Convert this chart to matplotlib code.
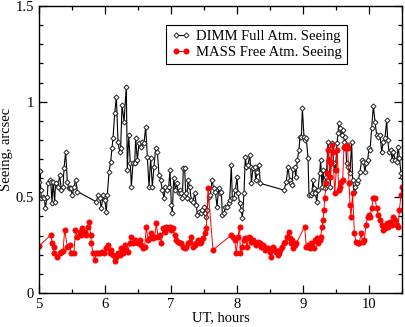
import matplotlib
matplotlib.use("Agg")
import matplotlib.pyplot as plt
from matplotlib.ticker import MultipleLocator, FuncFormatter

# UT hours and seeing (arcsec)
dimm_t = [5.005, 5.015, 5.026, 5.036, 5.061, 5.081, 5.096, 5.126, 5.136, 5.162,
          5.177, 5.197, 5.212, 5.237, 5.250, 5.263, 5.288, 5.313, 5.338, 5.364,
          5.379, 5.404, 5.429, 5.449, 5.465, 5.480, 5.505, 5.530, 5.556, 5.581,
          5.869, 5.894, 5.919, 5.945, 5.970, 5.995, 6.020, 6.035, 6.061, 6.086,
          6.106, 6.121, 6.147, 6.172, 6.197, 6.222, 6.237, 6.258, 6.288, 6.323,
          6.338, 6.359, 6.384, 6.399, 6.424, 6.450, 6.465, 6.490, 6.515, 6.540,
          6.566, 6.591, 6.616, 6.641, 6.667, 6.692, 6.717, 6.742, 6.768, 6.793,
          6.818, 6.843, 6.869, 6.894, 6.914, 6.939, 6.965, 6.985, 7.005, 7.020,
          7.040, 7.066, 7.086, 7.116, 7.136, 7.157, 7.172, 7.187, 7.207, 7.222,
          7.237, 7.258, 7.283, 7.308, 7.333, 7.359, 7.384, 7.399, 7.424, 7.449,
          7.475, 7.495, 7.510, 7.525, 7.545, 7.571, 7.596, 7.621, 7.646, 7.672,
          7.697, 7.722, 7.737, 7.763, 7.778, 7.803, 7.823, 7.848, 7.874, 7.889,
          7.914, 7.929, 7.949, 7.975, 8.000, 8.015, 8.040, 8.066, 8.081, 8.106,
          8.126, 8.141, 8.167, 8.192, 8.207, 8.217, 8.242, 8.268, 8.283, 8.308,
          8.333, 8.353, 8.712, 8.747, 8.773, 8.798, 8.813, 8.833, 8.848, 8.874,
          8.889, 8.914, 8.939, 8.954, 8.975, 8.990, 9.015, 9.035, 9.050, 9.076,
          9.091, 9.116, 9.136, 9.151, 9.167, 9.187, 9.207, 9.227, 9.252, 9.267,
          9.288, 9.303, 9.328, 9.353, 9.379, 9.394, 9.414, 9.429, 9.444, 9.464,
          9.490, 9.515, 9.530, 9.545, 9.561, 9.586, 9.611, 9.626, 9.641, 9.662,
          9.687, 9.712, 9.737, 9.752, 9.773, 9.788, 9.813, 9.838, 9.864, 9.889,
          9.914, 9.939, 9.955, 9.980, 10.000, 10.015, 10.040, 10.066, 10.091, 10.116,
          10.141, 10.167, 10.192, 10.217, 10.242, 10.268, 10.283, 10.303, 10.328, 10.354,
          10.369, 10.394, 10.419, 10.444, 10.460, 10.485, 10.500]
dimm_v = [0.580, 0.640, 0.540, 0.495, 0.500, 0.495, 0.443, 0.503, 0.573, 0.590,
          0.582, 0.472, 0.582, 0.477, 0.570, 0.573, 0.556, 0.617, 0.538, 0.556,
          0.652, 0.739, 0.582, 0.547, 0.550, 0.547, 0.512, 0.556, 0.591, 0.530,
          0.477, 0.512, 0.495, 0.443, 0.512, 0.486, 0.425, 0.512, 0.634, 0.687,
          0.756, 0.809, 0.939, 1.026, 0.791, 0.739, 0.756, 0.983, 0.896, 1.079,
          0.643, 0.826, 0.678, 0.556, 0.678, 0.678, 0.809, 0.695, 0.782, 0.765,
          0.791, 0.782, 0.869, 0.713, 0.556, 0.704, 0.556, 0.660, 0.756, 0.739,
          0.617, 0.591, 0.538, 0.495, 0.556, 0.538, 0.556, 0.643, 0.460, 0.416,
          0.599, 0.538, 0.573, 0.521, 0.538, 0.521, 0.495, 0.652, 0.652, 0.521,
          0.495, 0.591, 0.556, 0.486, 0.477, 0.521, 0.460, 0.408, 0.425, 0.416,
          0.434, 0.451, 0.416, 0.399, 0.434, 0.503, 0.512, 0.591, 0.547, 0.530,
          0.451, 0.547, 0.521, 0.530, 0.408, 0.416, 0.451, 0.451, 0.469, 0.486,
          0.669, 0.495, 0.495, 0.538, 0.608, 0.521, 0.469, 0.434, 0.390, 0.521,
          0.713, 0.660, 0.669, 0.721, 0.660, 0.573, 0.652, 0.660, 0.591, 0.634,
          0.669, 0.573, 0.538, 0.582, 0.660, 0.591, 0.573, 0.565, 0.646, 0.657,
          0.608, 0.695, 0.747, 0.817, 0.817, 0.965, 0.817, 0.800, 0.809, 0.704,
          0.512, 0.512, 0.521, 0.591, 0.547, 0.521, 0.477, 0.538, 0.625, 0.695,
          0.556, 0.643, 0.547, 0.608, 0.791, 0.695, 0.556, 0.756, 0.782, 0.678,
          0.643, 0.782, 0.835, 0.887, 0.860, 0.826, 0.852, 0.791, 0.817, 0.678,
          0.660, 0.625, 0.791, 0.591, 0.530, 0.556, 0.573, 0.591, 0.634, 0.695,
          0.687, 0.634, 0.678, 0.695, 0.756, 0.747, 0.861, 0.977, 0.896, 0.826,
          0.817, 0.826, 0.739, 0.791, 0.809, 0.904, 0.800, 0.739, 0.747, 0.695,
          0.739, 0.695, 0.687, 0.765, 0.704, 0.625, 0.608]

mass_t = [5.000, 5.177, 5.202, 5.222, 5.227, 5.278, 5.313, 5.338, 5.364, 5.389,
          5.429, 5.465, 5.490, 5.530, 5.551, 5.581, 5.616, 5.641, 5.657, 5.692,
          5.717, 5.742, 5.758, 5.783, 5.793, 5.818, 5.843, 5.869, 5.894, 5.919,
          5.955, 5.985, 6.020, 6.046, 6.071, 6.096, 6.121, 6.147, 6.172, 6.197,
          6.222, 6.248, 6.273, 6.298, 6.323, 6.349, 6.374, 6.399, 6.424, 6.450,
          6.475, 6.500, 6.525, 6.551, 6.576, 6.601, 6.626, 6.652, 6.677, 6.702,
          6.727, 6.753, 6.778, 6.803, 6.828, 6.854, 6.879, 6.904, 6.929, 6.955,
          6.980, 7.005, 7.030, 7.056, 7.081, 7.106, 7.131, 7.157, 7.182, 7.207,
          7.232, 7.258, 7.283, 7.308, 7.333, 7.359, 7.384, 7.409, 7.434, 7.460,
          7.485, 7.510, 7.535, 7.561, 7.636, 7.914, 7.939, 7.965, 7.990, 8.015,
          8.040, 8.050, 8.076, 8.101, 8.126, 8.151, 8.177, 8.202, 8.217, 8.242,
          8.268, 8.293, 8.318, 8.343, 8.369, 8.394, 8.419, 8.444, 8.470, 8.495,
          8.520, 8.545, 8.571, 8.596, 8.621, 8.636, 8.656, 8.682, 8.707, 8.732,
          8.762, 8.783, 8.798, 8.813, 8.833, 8.848, 8.874, 8.899, 9.025, 9.050,
          9.076, 9.101, 9.126, 9.141, 9.167, 9.187, 9.212, 9.227, 9.252, 9.267,
          9.288, 9.303, 9.318, 9.328, 9.353, 9.369, 9.379, 9.394, 9.414, 9.429,
          9.444, 9.454, 9.480, 9.505, 9.520, 9.540, 9.556, 9.576, 9.601, 9.621,
          9.636, 9.662, 9.677, 9.697, 9.712, 9.727, 9.752, 9.778, 9.803, 9.828,
          9.854, 9.879, 9.904, 9.929, 9.955, 9.980, 10.005, 10.015, 10.040, 10.066,
          10.091, 10.116, 10.141, 10.167, 10.192, 10.217, 10.242, 10.268, 10.293, 10.318,
          10.343, 10.369, 10.394, 10.419, 10.444, 10.460, 10.485, 10.500]
mass_v = [0.245, 0.303, 0.260, 0.242, 0.207, 0.190, 0.207, 0.216, 0.221, 0.329,
          0.242, 0.251, 0.207, 0.207, 0.329, 0.294, 0.321, 0.303, 0.338, 0.321,
          0.303, 0.347, 0.373, 0.303, 0.260, 0.207, 0.172, 0.207, 0.207, 0.207,
          0.216, 0.207, 0.233, 0.251, 0.207, 0.225, 0.199, 0.165, 0.190, 0.207,
          0.199, 0.233, 0.207, 0.251, 0.225, 0.216, 0.260, 0.294, 0.260, 0.277,
          0.268, 0.260, 0.277, 0.251, 0.233, 0.242, 0.347, 0.277, 0.286, 0.312,
          0.286, 0.294, 0.364, 0.294, 0.303, 0.260, 0.338, 0.321, 0.347, 0.338,
          0.347, 0.329, 0.338, 0.303, 0.277, 0.268, 0.260, 0.260, 0.242, 0.233,
          0.242, 0.260, 0.268, 0.294, 0.242, 0.251, 0.260, 0.277, 0.260, 0.268,
          0.286, 0.312, 0.338, 0.547, 0.225, 0.303, 0.294, 0.277, 0.207, 0.294,
          0.347, 0.207, 0.242, 0.277, 0.286, 0.242, 0.294, 0.286, 0.268, 0.277,
          0.260, 0.251, 0.268, 0.260, 0.242, 0.251, 0.225, 0.233, 0.233, 0.216,
          0.190, 0.242, 0.225, 0.216, 0.199, 0.207, 0.225, 0.242, 0.260, 0.268,
          0.294, 0.321, 0.286, 0.260, 0.277, 0.233, 0.251, 0.260, 0.347, 0.242,
          0.251, 0.233, 0.260, 0.242, 0.233, 0.277, 0.286, 0.260, 0.277, 0.294,
          0.347, 0.382, 0.434, 0.495, 0.573, 0.625, 0.747, 0.695, 0.608, 0.678,
          0.774, 0.739, 0.521, 0.643, 0.747, 0.538, 0.556, 0.582, 0.591, 0.765,
          0.756, 0.774, 0.756, 0.573, 0.460, 0.399, 0.521, 0.312, 0.268, 0.260,
          0.260, 0.312, 0.268, 0.277, 0.355, 0.399, 0.408, 0.399, 0.443, 0.495,
          0.495, 0.443, 0.408, 0.382, 0.355, 0.329, 0.338, 0.364, 0.347, 0.373,
          0.355, 0.399, 0.382, 0.355, 0.347, 0.434, 0.512, 0.556]

plt.rcParams["font.family"] = ["Liberation Serif", "DejaVu Serif"]
plt.rcParams["font.size"] = 10.5

fig = plt.figure(figsize=(4.05, 3.27), dpi=100)
ax = fig.add_axes([0.0963, 0.104, 0.8963, 0.8777])

ax.plot(dimm_t, dimm_v, color="black", lw=0.8, marker="D", ms=2.6,
        mfc="white", mec="#222222", mew=0.7, label="DIMM Full Atm. Seeing")
ax.plot(mass_t, mass_v, color="red", lw=0.7, marker="o", ms=3.8,
        mfc="red", mec="red", mew=0.5, label="MASS Free Atm. Seeing")

ax.set_xlim(5, 10.5)
ax.set_ylim(0, 1.5)
ax.xaxis.set_major_locator(MultipleLocator(1))
ax.xaxis.set_minor_locator(MultipleLocator(0.5))
ax.yaxis.set_major_locator(MultipleLocator(0.5))
ax.yaxis.set_minor_locator(MultipleLocator(0.1))
ax.yaxis.set_major_formatter(FuncFormatter(lambda v, p: f"{v:g}"))
ax.tick_params(which="both", direction="in", top=True, right=True, width=0.9)
ax.tick_params(which="major", length=5.5)
ax.tick_params(which="minor", length=3)
for s in ax.spines.values():
    s.set_linewidth(1.0)

ax.set_xlabel("UT, hours", labelpad=0)
ax.set_ylabel("Seeing, arcsec", labelpad=2)

leg = ax.legend(loc="upper right", bbox_to_anchor=(0.848, 0.934),
                borderaxespad=0, fancybox=False, framealpha=1,
                edgecolor="black", handlelength=1.3, handletextpad=0.4,
                borderpad=0.35, labelspacing=0.2, numpoints=2)
leg.get_frame().set_linewidth(0.8)

fig.savefig("out.png", dpi=100)
